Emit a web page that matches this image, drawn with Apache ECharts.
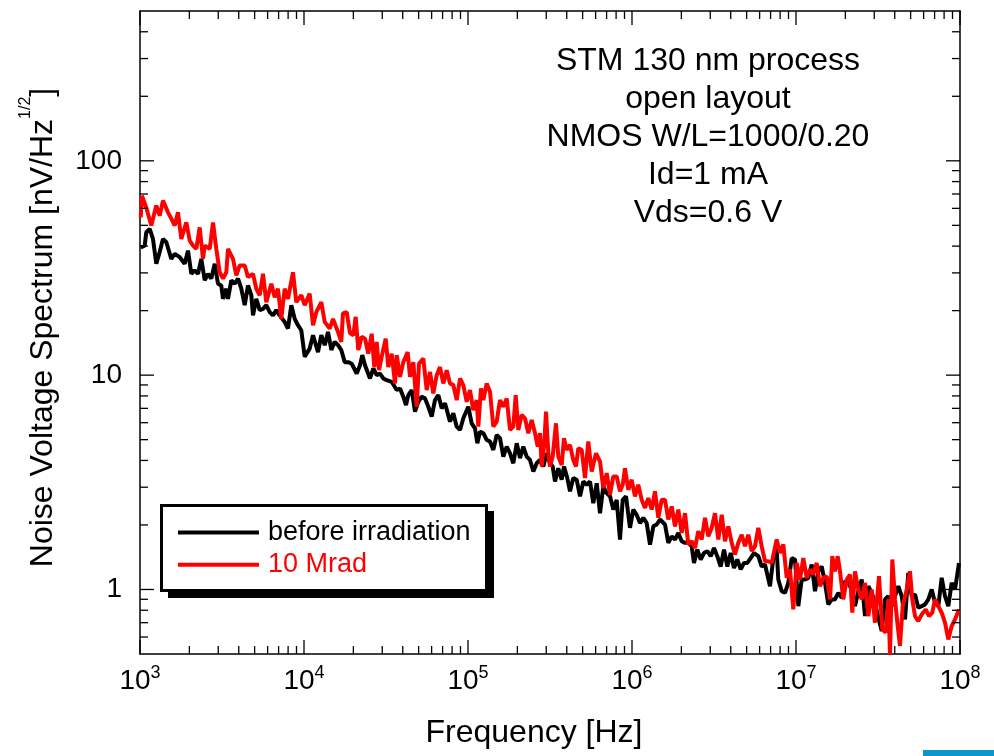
<!DOCTYPE html>
<html><head><meta charset="utf-8">
<script src="https://cdn.jsdelivr.net/npm/echarts@6/dist/echarts.min.js"></script>
<style>html,body{margin:0;padding:0;background:#fff}#c{width:994px;height:756px}</style>
</head><body><div id="c"></div>
<script>
// [frequency Hz, noise nV/Hz^1/2]
const beforeIrradiation = [
[1010,39.5],[1068,40.2],[1092,46.4],[1146,48.1],[1200,43.2],[1257,33.1],[1318,37.5],[1381,43.2],[1447,41.7],[1552,34.9],[1628,36.8],[1746,35.5],[1873,33.1],[1962,38.1],[2055,29.7],[2155,30.8],[2259,29.7],[2365,34.9],[2480,27.7],[2598,29.7],[2722,28.2],[2855,33.1],[2990,26.7],[3131,26.2],[3207,22.7],[3360,25.3],[3440,22.7],[3603,27.7],[3780,26.7],[3959,28.2],[4148,25.3],[4349,21.2],[4554,26.2],[4772,23.6],[4887,19.0],[5118,22.7],[5370,20.1],[5623,20.4],[5890,21.2],[6180,19.7],[6471,19.0],[6779,20.1],[7108,19.0],[7625,17.7],[7987,16.5],[8369,21.2],[8777,18.3],[9192,17.1],[9627,16.2],[10100,12.2],[10830,13.3],[11350,15.35],[12170,12.8],[12750,15.35],[13380,13.8],[14010,15.9],[14680,13.1],[15390,14.3],[16120,13.8],[16880,13.1],[17710,11.5],
[17780,11.74],[18630,11.5],[19540,11.3],[20960,10.18],[21950,11.13],[22670,12.4],[23550,11.13],[25260,9.65],[26470,10.74],[27750,10.0],[29060,10.18],[30440,9.65],[31930,9.48],[34260,9.31],[36750,8.52],[38490,8.67],[40320,7.93],[41880,7.25],[43250,8.07],[45370,8.52],[47520,6.75],[49770,7.51],[52220,7.93],[54690,7.79],[57280,7.12],[60060,6.40],[62910,7.65],[65900,8.07],[69130,7.0],[72410,7.39],[77660,6.07],[81370,6.64],[85330,5.75],[89380,5.55],[93610,6.29],[100400,7.12],[105300,5.96],[110300,5.65],[114000,4.81],[118400,5.45],[124000,5.36],[130000,4.99],[136200,4.90],[142700,4.48],[149600,5.26],[156700,5.08],[164200,4.17],[172200,4.64],[180400,4.32],[188900,3.88],[198200,4.81],[207600,4.10],[217400,4.64],[228000,4.17],[238800,4.02],[250200,3.55],[262400,3.88],[274800,4.02],[287800,3.75],[302000,4.32],[316200,3.88],
[328400,3.75],[339200,3.19],[355300,3.68],[372600,3.25],[384900,3.75],[403200,3.31],[418800,2.87],[438600,3.31],[460000,3.25],[481900,2.72],[504900,3.19],[529500,3.08],[554600,3.19],[580800,2.53],[609300,3.13],[638200,2.27],[668300,3.02],[701000,2.82],[734500,2.72],[769100,2.36],[806500,2.62],[845000,1.71],[877500,2.62],[919100,2.72],[972300,1.94],[1018000,2.36],[1068000,2.23],[1119000,2.04],[1172000,2.16],[1229000,2.04],[1288000,1.62],[1349000,1.97],[1414000,2.01],[1482000,2.12],[1589000,2.01],[1665000,1.65],[1746000,1.77],[1829000,1.71],[1916000,1.835],[2009000,1.68],[2105000,1.65],[2204000,1.65],[2312000,1.59],[2388000,1.33],[2501000,1.535],[2624000,1.38],[2748000,1.48],[2878000,1.51],[3020000,1.43],[3162000,1.56],[3312000,1.43],[3474000,1.28],[3639000,1.535],[3813000,1.28],[3998000,1.48],[4188000,1.26],[4386000,1.38],[4601000,1.24],[4819000,1.33],[5048000,1.33],[5294000,1.40],[5545000,1.48],[5890000,1.43],
[6180000,1.28],[6471000,1.307],[6942000,1.036],[7270000,1.40],[7625000,1.535],[7799000,1.113],[8181000,0.982],[8568000,0.965],[8974000,1.074],[9415000,1.40],[9861000,1.38],[10330000,0.836],[10830000,1.113],[11350000,1.113],[11890000,1.133],[12470000,1.307],[13060000,0.982],[13680000,1.216],[14350000,1.28],[15030000,1.074],[15740000,0.852],[16510000,0.899],[17290000,0.899],[18110000,0.965],[18990000,0.915],[19900000,1.093],[20840000,1.074],[21860000,1.0],[22890000,0.836],[23990000,0.982],[25160000,1.113],[26350000,0.751],[27610000,1.036],[28950000,0.965],[30320000,0.867],[31760000,0.739],[33310000,0.640],[34890000,0.899],[36540000,0.931],[38330000,0.836],[40150000,0.931],[42060000,1.036],[44120000,0.931],[46200000,0.725],[48390000,1.196],[50760000,0.931],[53170000,0.948],[55680000,0.822],[58410000,0.836],[61190000,0.852],[64100000,0.899],[67190000,1.0],[70400000,0.867],[73740000,0.836],[77330000,1.133],[81000000,0.931],[84860000,0.836],[89000000,1.074],[93220000,1.0],[98600000,1.33]
];
const mrad10 = [
[1010,54.4],[1028,68.7],[1092,60.4],[1172,49.9],[1257,61.8],[1318,55.5],[1381,65.2],[1481,57.5],[1552,53.7],[1628,49.9],[1705,57.5],[1786,43.2],[1916,51.6],[2009,42.5],[2105,40.2],[2204,38.8],[2312,48.9],[2422,34.9],[2480,40.2],[2661,38.8],[2787,51.6],[2920,38.8],[3062,30.2],[3207,28.2],[3360,30.2],[3440,38.8],[3690,34.9],[3867,29.2],[4055,32.5],[4349,32.5],[4554,28.7],[4887,29.7],[5118,25.3],[5370,23.6],[5623,29.7],[5890,21.9],[6318,26.7],[6626,23.1],[6941,25.3],[7270,18.3],[7625,25.3],[7987,22.7],[8568,30.2],[8974,21.9],[9627,23.6],[10100,21.2],[10830,24.0],[11350,17.1],[11890,19.7],[12750,21.9],[13380,17.7],[14350,16.5],[15030,18.3],[16120,15.9],[16880,14.3],[17290,19.4],
[18210,19.7],[19080,15.7],[19980,15.35],[20660,18.7],[21430,13.1],[22470,15.1],[23550,14.8],[24670,12.6],[25870,15.6],[26840,10.9],[27750,14.3],[28670,10.55],[29770,12.2],[31490,14.8],[32660,10.9],[34260,12.6],[35880,9.15],[36750,12.4],[38490,9.82],[40320,11.5],[42890,12.8],[44290,9.82],[46400,11.5],[48670,7.12],[50260,11.3],[53390,11.96],[56000,8.52],[58660,10.35],[61430,8.22],[64440,10.0],[67500,10.9],[70700,9.15],[74150,10.55],[77660,9.15],[81370,8.99],[85330,7.65],[89380,9.65],[93610,8.99],[98200,7.51],[102800,8.52],[107700,6.87],[113000,7.65],[115600,5.75],[120000,8.67],[124000,7.65],[130000,9.15],[136200,8.36],[142700,5.75],[149600,6.07],[156700,7.65],[164200,7.12],[172200,7.79],[180400,5.55],[188900,5.75],[195400,8.07],[202600,5.55],[212500,6.52],[222600,6.29],[233200,5.36],[244600,6.18],[256200,5.36],[266100,4.64],[274800,5.36],[281400,3.75],[291900,4.81],[299000,6.75],[308800,4.32],[316200,3.75],
[328400,4.17],[344000,5.96],[355300,4.17],[372600,3.81],[384900,5.08],[399600,4.48],[418800,4.73],[438600,4.02],[455400,3.75],[470500,4.56],[493400,4.48],[516800,3.31],[541300,4.90],[567800,3.55],[603300,4.32],[638200,3.95],[668300,2.97],[701000,3.49],[734500,2.77],[769100,3.37],[806500,3.37],[845000,2.87],[877500,3.08],[906300,3.68],[949300,2.92],[995900,3.25],[1043000,2.72],[1092000,3.08],[1146000,2.62],[1200000,2.40],[1257000,2.67],[1319000,2.36],[1381000,2.87],[1447000,2.16],[1517000,2.62],[1589000,2.62],[1665000,2.12],[1746000,2.44],[1829000,1.97],[1916000,2.36],[2009000,1.835],[2105000,2.27],[2204000,1.62],[2312000,1.68],[2422000,1.56],[2537000,1.87],[2661000,1.71],[2787000,2.16],[2920000,1.77],[3062000,1.94],[3207000,2.27],[3360000,1.71],[3524000,2.23],[3690000,1.68],[3867000,1.97],[4055000,1.65],[4246000,1.455],[4448000,1.65],[4666000,1.80],[4887000,1.59],[5118000,1.80],[5370000,1.51],[5623000,1.59],[5890000,1.94],
[6180000,1.59],[6471000,1.354],[6779000,1.354],[7108000,1.33],[7625000,1.71],[7987000,1.48],[8369000,1.62],[8777000,1.133],[9192000,1.24],[9627000,0.807],[10100000,1.33],[10580000,1.113],[11080000,1.40],[11620000,1.133],[12170000,1.24],[12750000,1.174],[13370000,1.33],[14010000,1.036],[14670000,1.133],[15390000,1.153],[16120000,0.899],[16650000,1.43],[17290000,1.216],[17960000,1.43],[18550000,1.216],[19430000,0.899],[20380000,1.113],[21350000,1.174],[22040000,0.779],[22890000,1.216],[23990000,1.0],[25160000,0.899],[26350000,1.074],[27610000,0.751],[28950000,1.0],[30320000,0.700],[32070000,1.153],[33590000,0.652],[35240000,0.629],[36540000,0.899],[37430000,0.498],[38670000,1.38],[40150000,0.899],[41700000,0.675],[43060000,0.545],[44720000,0.836],[47320000,1.0],[49560000,1.216],[51170000,0.899],[53170000,0.751],[55680000,0.712],[58410000,0.765],[61800000,0.807],[64710000,0.751],[67790000,0.779],[70400000,0.899],[73740000,0.836],[77330000,0.779],[81000000,0.700],[84860000,0.585],[89000000,0.675],[93220000,0.725],[98600000,0.807]
];
const seriesNames = ['before irradiation', '10 Mrad'];
const xRange = [1e3, 1e8];
const yRange = [0.5, 500];
const yLabelValues = [1, 10, 100];
const annotationLines = ['STM 130 nm process', 'open layout', 'NMOS W/L=1000/0.20', 'Id=1 mA', 'Vds=0.6 V'];

const FONT = '"Liberation Sans", Arial, Helvetica, sans-serif';

// tick marks: [xValue, yValue, kind (0 = x tick, 1 = y tick), major]
const tickMarks = [];
for (let k = 3; k <= 8; k++) {
  tickMarks.push([Math.pow(10, k), 1, 0, 1]);
  if (k < 8) for (let m = 2; m <= 9; m++) tickMarks.push([m * Math.pow(10, k), 1, 0, 0]);
}
for (let k = -1; k <= 2; k++) {
  for (let m = 1; m <= 9; m++) {
    const v = m * Math.pow(10, k);
    if (v <= yRange[0] * 1.0001 || v >= yRange[1] * 0.9999) continue;
    tickMarks.push([1000, v, 1, m === 1 ? 1 : 0]);
  }
}

const chart = echarts.init(document.getElementById('c'), null, {renderer: 'canvas'});
const axisLineStyle = {show: true, lineStyle: {color: '#000', width: 1.5}};
const option = {
  animation: false,
  backgroundColor: '#fff',
  grid: {left: 140, right: 34, top: 11, bottom: 101, containLabel: false},
  legend: {
    orient: 'vertical', left: 161, top: 505, z: 20,
    data: [{name: seriesNames[0], textStyle: {color: '#000'}}, {name: seriesNames[1], textStyle: {color: '#ff0000'}}],
    icon: 'rect', itemWidth: 81, itemHeight: 4, itemGap: 1.3,
    padding: [12, 15, 12, 17],
    backgroundColor: 'transparent', borderWidth: 0,
    textStyle: {fontSize: 27, fontFamily: FONT, lineHeight: 31, padding: [0, 0, 0, 4]},
    selectedMode: false
  },
  xAxis: [{
    type: 'log', logBase: 10, min: xRange[0], max: xRange[1], position: 'bottom',
    axisLine: axisLineStyle, axisTick: {show: false}, splitLine: {show: false}, minorTick: {show: false},
    axisLabel: {
      margin: 10, color: '#000',
      formatter: v => '{b|10}{s|' + Math.round(Math.log10(v)) + '}',
      rich: {
        b: {fontSize: 28, fontFamily: FONT, color: '#000', lineHeight: 34},
        s: {fontSize: 18, fontFamily: FONT, color: '#000', lineHeight: 18, verticalAlign: 'top'}
      }
    },
    name: 'Frequency [Hz]', nameLocation: 'middle', nameGap: 61,
    nameTextStyle: {fontSize: 32, fontFamily: FONT, color: '#000', lineHeight: 36, padding: [0, 32, 0, 0]}
  }, {
    type: 'log', logBase: 10, min: xRange[0], max: xRange[1], position: 'top',
    axisLine: axisLineStyle, axisTick: {show: false}, axisLabel: {show: false}, splitLine: {show: false}
  }],
  yAxis: [{
    type: 'log', logBase: 10, min: yRange[0], max: yRange[1], position: 'left',
    axisLine: axisLineStyle, axisTick: {show: false}, splitLine: {show: false}, minorTick: {show: false},
    axisLabel: {
      margin: 18, color: '#000', fontSize: 28, fontFamily: FONT,
      formatter: v => {
        const hit = yLabelValues.find(t => Math.abs(t - v) / t < 1e-6);
        return hit === undefined ? '' : String(hit);
      }
    },
    name: '{a|Noise Voltage Spectrum [nV/Hz}{s|1/2}{a|]}', nameLocation: 'middle', nameRotate: 90, nameGap: 72,
    nameTextStyle: {
      color: '#000', padding: [0, 0, 0, 10],
      rich: {
        a: {fontSize: 32, fontFamily: FONT, color: '#000', lineHeight: 50},
        s: {fontSize: 16, fontFamily: FONT, color: '#000', lineHeight: 10, verticalAlign: 'top'}
      }
    }
  }, {
    type: 'log', logBase: 10, min: yRange[0], max: yRange[1], position: 'right',
    axisLine: axisLineStyle, axisTick: {show: false}, axisLabel: {show: false}, splitLine: {show: false}
  }],
  graphic: [{
    type: 'text', x: 708, y: 42, z: 10,
    style: {text: annotationLines.join('\n'), fontSize: 32, fontFamily: FONT, fill: '#000', align: 'center', verticalAlign: 'top', lineHeight: 38}
  }, {
    type: 'rect', z: 10, shape: {x: 168, y: 511, width: 326, height: 87}, style: {fill: '#000'}
  }, {
    type: 'rect', z: 11, shape: {x: 161.5, y: 505.5, width: 325, height: 85}, style: {fill: '#fff', stroke: '#000', lineWidth: 3}
  }, {
    type: 'rect', z: 10, shape: {x: 923, y: 750, width: 71, height: 6}, style: {fill: '#0a96c8'}
  }],
  series: [{
    type: 'line', name: seriesNames[0], data: beforeIrradiation, symbol: 'none', showSymbol: false,
    lineStyle: {color: '#000', width: 4}, itemStyle: {color: '#000'}, z: 2
  }, {
    type: 'line', name: seriesNames[1], data: mrad10, symbol: 'none', showSymbol: false,
    lineStyle: {color: '#ff0000', width: 4}, itemStyle: {color: '#ff0000'}, z: 3
  }, {
    type: 'custom', name: 'ticks', data: tickMarks, silent: true, clip: false, z: 5,
    encode: {x: 0, y: 1},
    renderItem: (params, api) => {
      const kind = api.value(2), major = api.value(3);
      const len = major ? 14 : 8;
      const style = {stroke: '#000', lineWidth: 1.3};
      if (kind === 0) {
        const v = api.value(0);
        const b = api.coord([v, yRange[0]]), t = api.coord([v, yRange[1]]);
        return {type: 'group', children: [
          {type: 'line', shape: {x1: b[0], y1: b[1], x2: b[0], y2: b[1] - len}, style},
          {type: 'line', shape: {x1: t[0], y1: t[1], x2: t[0], y2: t[1] + len}, style}
        ]};
      }
      const v = api.value(1);
      const l = api.coord([xRange[0], v]), r = api.coord([xRange[1], v]);
      return {type: 'group', children: [
        {type: 'line', shape: {x1: l[0], y1: l[1], x2: l[0] + len, y2: l[1]}, style},
        {type: 'line', shape: {x1: r[0], y1: r[1], x2: r[0] - len, y2: r[1]}, style}
      ]};
    }
  }]
};
chart.setOption(option);
</script>
</body></html>
